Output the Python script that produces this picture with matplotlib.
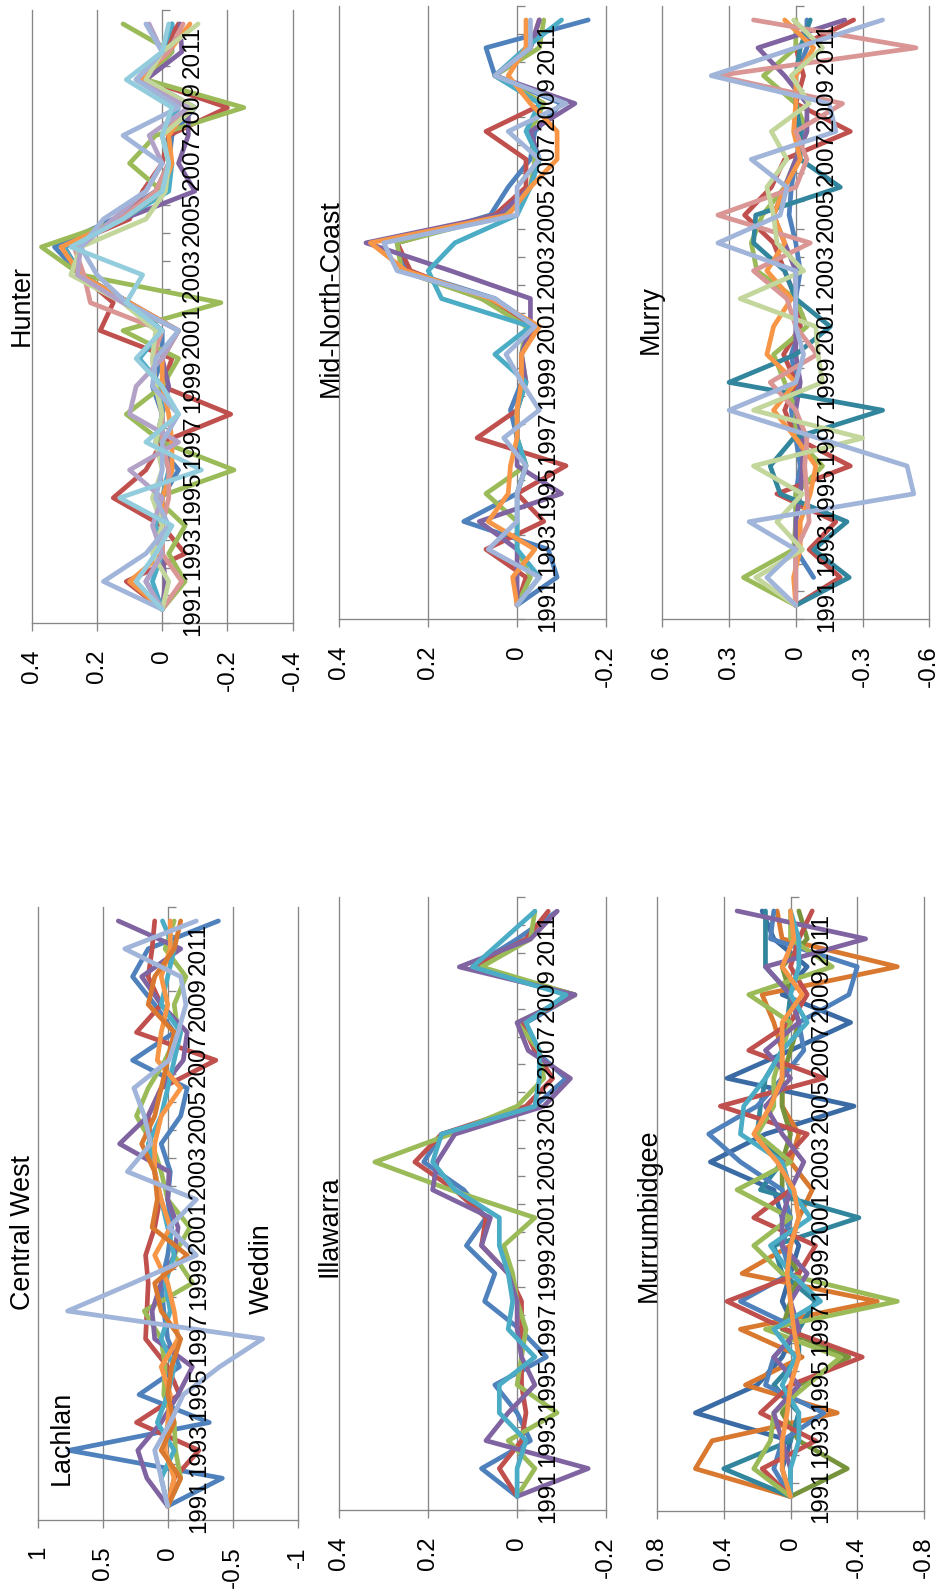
import numpy as np
import matplotlib
matplotlib.use('Agg')
import matplotlib.pyplot as plt
from matplotlib import transforms

plt.rcParams['font.family'] = ['Liberation Sans', 'DejaVu Sans']
plt.rcParams['axes.unicode_minus'] = False

W, H = 939, 1592
years = list(range(1991, 2013))

# ---- Central West ----
cw_lachlan = [0, -0.42, 0.76, -0.32, 0.22, -0.09, 0.0, 0.03, 0.05, 0.0, -0.03, 0.0, -0.02, 0.05, -0.1, -0.15, 0.27, -0.05, 0.1, 0.27, 0.15, -0.39]
cw_red = [0, -0.05, -0.24, 0.24, -0.09, 0.0, 0.17, 0.16, 0.15, 0.17, 0.1, 0.06, 0.1, 0.13, 0.15, 0.05, -0.37, 0.24, 0.05, 0.15, 0.12, 0.1]
cw_green = [0, -0.1, -0.06, -0.05, 0.03, 0.02, 0.05, 0.18, -0.19, -0.05, -0.17, 0.0, 0.05, 0.12, 0.24, 0.15, 0.02, -0.08, -0.05, -0.14, 0.02, -0.05]
cw_purple = [0, 0.16, 0.23, 0.05, -0.08, -0.19, 0.1, 0.12, 0.05, -0.05, -0.08, 0.0, -0.01, 0.37, 0.15, 0.05, -0.12, -0.15, 0.05, 0.2, -0.1, 0.38]
cw_aqua = [0, 0.05, -0.05, 0.08, 0.0, -0.05, 0.05, -0.02, 0.02, -0.05, 0.0, 0.05, 0.1, 0.15, 0.05, 0.0, -0.05, -0.1, 0.05, 0.0, -0.05, 0.04]
cw_orange = [0, -0.05, 0.02, 0.0, -0.02, 0.05, -0.08, -0.05, 0.0, 0.1, -0.02, 0.05, 0.1, 0.1, 0.05, -0.1, 0.08, 0.05, 0.0, 0.05, -0.02, -0.02]
cw_brown = [0, -0.1, 0.05, -0.05, 0.0, -0.03, -0.1, 0.05, 0.1, -0.15, 0.12, 0.08, 0.1, 0.2, 0.1, 0.05, 0.0, -0.05, 0.15, 0.1, -0.05, -0.1]
cw_weddin = [0, 0.05, 0.1, -0.02, -0.12, -0.4, -0.73, 0.77, 0.27, -0.22, -0.01, -0.22, 0.31, 0.13, 0.18, 0.26, -0.01, -0.08, -0.14, -0.1, 0.33, -0.22]

# ---- Illawarra ----
il_blue = [0, 0.08, -0.03, 0.0, 0.05, -0.066, -0.006, 0.073, 0.05, 0.114, 0.07, 0.12, 0.21, 0.17, -0.04, -0.11, -0.04, -0.02, -0.13, 0.1, 0.0, -0.09]
il_red = [0, 0.04, -0.01, -0.02, -0.01, -0.01, -0.01, -0.01, 0.02, 0.08, 0.07, 0.14, 0.23, 0.17, -0.02, -0.08, -0.04, -0.01, -0.13, 0.1, -0.02, -0.07]
il_green = [0, -0.04, 0.02, -0.09, 0.0, -0.01, -0.02, 0.0, 0.01, 0.03, -0.04, 0.15, 0.32, 0.15, 0.0, -0.06, -0.05, 0.0, -0.13, 0.08, -0.03, -0.04]
il_purple = [0, -0.16, 0.07, 0.02, -0.04, -0.01, 0.0, 0.0, 0.02, 0.08, 0.06, 0.19, 0.18, 0.14, -0.06, -0.12, -0.025, 0.0, -0.13, 0.13, -0.03, -0.09]
il_aqua = [0, 0.0, -0.02, 0.04, 0.04, -0.04, 0.02, 0.01, 0.02, 0.04, 0.04, 0.14, 0.19, 0.17, -0.04, -0.05, -0.05, -0.02, -0.11, 0.1, 0.03, -0.04]

# ---- Murrumbidgee ----
mb_brown = [0, 0.57, 0.47, -0.28, 0.27, -0.07, 0.3, -0.52, 0.29, 0.0, -0.05, -0.13, 0.0, -0.05, 0.05, 0.05, 0.05, 0.1, 0.17, -0.64, 0.05, 0.08]
mb_darkblue = [0, 0.05, 0.0, 0.57, 0.2, 0.05, -0.03, 0.05, 0.0, -0.05, 0.05, 0.1, 0.48, 0.15, -0.38, 0.38, 0.0, -0.36, 0.05, -0.1, 0.1, 0.17]
mb_blue = [0, 0.1, 0.05, -0.2, 0.15, 0.1, -0.05, 0.3, 0.0, 0.05, 0.0, 0.05, 0.3, 0.49, 0.2, 0.05, -0.08, -0.05, -0.35, -0.4, 0.12, 0.1]
mb_teal = [0, 0.4, 0.0, -0.05, 0.1, -0.05, -0.05, -0.15, 0.05, 0.1, -0.41, 0.18, 0.05, 0.2, 0.18, 0.15, 0.05, 0.02, 0.0, 0.15, 0.15, 0.15]
mb_green = [0, 0.22, 0.12, 0.1, -0.1, -0.3, 0.15, -0.64, 0.05, 0.22, 0.0, 0.32, 0.0, 0.2, 0.1, 0.1, 0.05, 0.0, 0.25, -0.25, 0.0, 0.0]
mb_darkgreen = [0, -0.34, -0.05, 0.05, -0.05, -0.35, 0.05, 0.0, -0.05, 0.05, 0.0, 0.05, 0.05, 0.0, 0.05, 0.05, 0.0, -0.05, 0.0, 0.05, -0.1, -0.05]
mb_red = [0, 0.17, -0.15, 0.18, 0.0, -0.43, 0.03, 0.38, -0.05, -0.15, 0.22, 0.0, 0.05, -0.1, 0.42, -0.2, 0.25, 0.0, -0.1, 0.0, -0.05, -0.13]
mb_purple = [0, 0.0, 0.05, 0.1, -0.05, 0.1, -0.05, 0.0, -0.1, 0.05, 0.05, 0.0, -0.08, 0.05, 0.15, 0.0, 0.15, -0.05, 0.0, 0.15, -0.45, 0.32]
mb_aqua = [0, 0.0, -0.05, -0.05, 0.05, -0.03, 0.1, -0.18, 0.0, 0.12, -0.12, 0.0, 0.05, 0.3, 0.28, 0.15, 0.05, -0.1, 0.0, -0.05, -0.05, 0.0]
mb_orange = [0, 0.05, 0.05, 0.02, 0.0, -0.05, -0.02, 0.0, 0.02, 0.0, -0.05, -0.02, 0.08, 0.22, 0.12, 0.05, 0.05, 0.05, -0.07, 0.05, -0.02, 0.0]

# ---- Hunter ----
hu_blue = [0, 0.05, 0.0, 0.02, 0.0, -0.05, 0.02, 0.0, 0.03, 0.0, 0.0, 0.1, 0.25, 0.33, 0.15, 0.02, -0.02, -0.03, -0.1, 0.05, -0.03, -0.03]
hu_red = [0, 0.11, -0.07, 0.0, 0.15, 0.05, 0.0, -0.21, 0.0, -0.03, 0.19, 0.15, 0.25, 0.3, 0.1, 0.06, 0.0, -0.02, -0.2, 0.05, 0.0, -0.05]
hu_green = [0, -0.07, -0.02, -0.07, 0.02, -0.22, 0.0, 0.11, 0.0, -0.05, 0.12, -0.18, 0.25, 0.37, 0.12, 0.0, 0.1, 0.02, -0.25, 0.05, -0.03, 0.12]
hu_purple = [0, -0.01, 0.0, 0.0, 0.0, -0.03, 0.0, 0.0, -0.02, 0.0, -0.05, 0.1, 0.25, 0.3, 0.12, -0.1, -0.05, -0.08, -0.08, 0.05, -0.06, -0.055]
hu_aqua = [0, 0.03, 0.0, 0.02, 0.0, -0.02, 0.0, 0.0, 0.0, 0.07, 0.0, 0.1, 0.25, 0.3, 0.12, -0.02, -0.03, 0.0, -0.05, 0.06, 0.0, -0.03]
hu_orange = [0, 0.1, 0.0, 0.0, 0.0, -0.03, -0.03, -0.02, 0.0, 0.0, -0.05, 0.1, 0.25, 0.31, 0.12, 0.0, -0.03, -0.02, -0.08, 0.07, -0.02, -0.085]
hu_pink = [0, -0.06, 0.0, 0.0, -0.02, -0.02, 0.0, 0.0, 0.02, 0.03, 0.0, 0.22, 0.24, 0.27, 0.13, 0.02, -0.02, 0.0, -0.08, 0.08, -0.02, -0.064]
hu_lgreen = [0, -0.02, 0.03, 0.0, 0.03, 0.0, 0.02, 0.0, 0.02, 0.03, 0.02, 0.12, 0.28, 0.25, 0.05, -0.01, -0.02, 0.0, -0.1, 0.05, 0.0, -0.11]
hu_lavender = [0, 0.05, 0.0, 0.03, 0.0, 0.1, -0.05, 0.1, 0.08, 0.0, -0.05, 0.12, 0.26, 0.25, 0.15, 0.05, 0.0, 0.04, -0.08, 0.08, 0.0, 0.04]
hu_lsb = [0, 0.18, 0.05, -0.02, 0.02, 0.0, 0.0, -0.05, 0.03, 0.02, -0.05, 0.11, 0.2, 0.25, 0.18, 0.05, 0.0, 0.12, -0.05, 0.08, 0.0, 0.05]
hu_laqua = [0, 0.08, 0.02, -0.03, 0.13, -0.12, 0.05, -0.05, 0.0, 0.08, 0.0, 0.11, 0.06, 0.28, 0.12, 0.0, -0.02, 0.0, -0.03, 0.11, 0.0, -0.02]

# ---- Mid-North-Coast ----
mn_blue = [0, -0.09, -0.07, 0.12, 0.0, -0.02, 0.0, 0.015, -0.01, -0.01, -0.04, 0.05, 0.25, 0.27, 0.06, 0.02, -0.03, -0.04, -0.1, 0.05, 0.07, -0.16]
mn_red = [0, -0.02, 0.07, -0.06, 0.0, -0.11, 0.09, 0.0, -0.01, -0.01, -0.04, 0.08, 0.24, 0.27, 0.05, -0.02, -0.02, 0.07, -0.06, 0.05, -0.03, -0.05]
mn_green = [0, -0.03, 0.0, 0.0, 0.07, -0.02, 0.0, 0.0, -0.02, -0.01, -0.02, 0.08, 0.26, 0.27, 0.03, -0.03, -0.04, -0.03, -0.06, 0.05, -0.05, -0.06]
mn_purple = [0, 0.0, 0.0, 0.085, -0.1, 0.0, 0.0, 0.0, -0.02, -0.01, -0.03, -0.03, 0.15, 0.34, 0.04, -0.03, -0.05, -0.03, -0.13, 0.05, -0.03, -0.05]
mn_aqua = [0, -0.05, 0.0, 0.0, 0.0, -0.02, 0.0, 0.0, -0.02, 0.05, -0.03, 0.17, 0.2, 0.14, 0.0, -0.03, -0.05, -0.02, -0.05, 0.05, -0.02, -0.1]
mn_orange = [0, 0.01, -0.04, 0.065, 0.02, 0.015, 0.0, 0.0, -0.01, -0.01, -0.05, 0.06, 0.25, 0.33, 0.02, -0.03, -0.09, -0.09, -0.03, 0.02, -0.02, -0.02]
mn_lsb = [0, -0.05, 0.065, 0.0, 0.0, -0.02, 0.03, -0.05, -0.01, 0.025, -0.04, 0.05, 0.27, 0.3, 0.0, 0.0, -0.05, 0.02, -0.11, 0.05, -0.03, -0.03]

# ---- Murry ----
mu_blue = [np.nan, -0.08, 0.0, 0.0, 0.0, -0.02, 0.0, 0.02, 0.0, 0.02, -0.02, 0.0, -0.02, 0.0, 0.03, 0.02, 0.0, -0.03, 0.0, 0.0, -0.05, -0.05]
mu_red = [0, -0.2, -0.06, -0.18, 0.085, -0.245, 0.0, 0.05, 0.0, 0.055, -0.02, 0.0, 0.05, 0.1, 0.23, 0.11, 0.05, -0.245, 0.0, -0.035, 0.0, -0.26]
mu_green = [0, 0.235, 0.01, 0.0, 0.0, -0.12, 0.0, 0.0, 0.05, 0.1, -0.05, 0.0, 0.175, 0.2, 0.15, 0.05, 0.0, -0.05, 0.0, 0.145, 0.0, 0.0]
mu_purple = [0, 0.0, 0.0, 0.0, -0.02, -0.03, -0.03, 0.0, -0.02, 0.0, 0.0, 0.0, 0.0, 0.05, 0.1, 0.05, 0.0, -0.05, -0.05, 0.05, 0.17, -0.22]
mu_teal = [0, -0.24, -0.08, -0.23, 0.07, 0.115, 0.01, -0.39, 0.3, 0.0, -0.155, 0.0, 0.05, 0.19, 0.18, -0.2, -0.02, -0.02, 0.0, 0.0, -0.02, -0.065]
mu_orange = [0, 0.01, -0.02, -0.02, -0.065, -0.09, 0.0, 0.1, 0.0, 0.13, 0.1, 0.02, 0.13, 0.05, 0.1, 0.05, -0.02, 0.01, 0.0, 0.0, -0.08, 0.05]
mu_pink = [0, 0.0, 0.0, -0.06, -0.05, -0.04, -0.05, 0.0, 0.115, -0.095, 0.0, 0.04, 0.19, -0.065, 0.35, 0.0, -0.05, 0.0, -0.21, 0.355, -0.54, 0.19]
mu_lgreen = [0, 0.18, -0.03, 0.085, -0.03, 0.19, -0.3, 0.19, -0.12, -0.1, -0.09, 0.25, -0.035, 0.085, 0.1, 0.13, 0.04, 0.11, -0.06, 0.02, -0.12, 0.01]
mu_lsb = [0, 0.13, 0.0, 0.21, -0.53, -0.5, -0.1, 0.3, 0.0, -0.035, 0.0, 0.0, 0.0, 0.35, 0.07, 0.04, 0.2, -0.18, -0.15, 0.38, 0.0, -0.39]

# excel-ish colours
BLUE, RED, GREEN = '#4F81BD', '#C0504D', '#9BBB59'
PURPLE, AQUA, ORANGE = '#8064A2', '#4BACC6', '#F79646'
BROWN, LSB, DBLUE = '#D9782F', '#A0B5D9', '#3A6BA5'
TEAL, DGREEN, PINK = '#31859C', '#77933C', '#D99694'
LGREEN, LAV, LAQUA = '#C3D69B', '#B3A2C7', '#93CDDD'
GRID = '#868686'

TICK_FS = 17.4
TITLE_FS = 19.4
LW = 3.4

fig = plt.figure(figsize=(W / 100, H / 100), dpi=100)


def draw_panel(box, vlim, ticks, tlabels, series, colors):
    # box in pixels: left, right, top, bottom; value axis runs right-to-left
    x0, x1, y0, y1 = box
    ax = fig.add_axes([x0 / W, 1 - y1 / H, (x1 - x0) / W, (y1 - y0) / H])
    ax.set_xlim(vlim[0], vlim[1])
    ax.set_ylim(-0.5, len(years) - 0.5)
    for s in ('top', 'left', 'right'):
        ax.spines[s].set_visible(False)
    ax.spines['bottom'].set_color(GRID)
    ax.spines['bottom'].set_linewidth(0.95)
    ax.set_yticks([])
    ax.set_xticks(ticks)
    ax.set_xticklabels(tlabels, rotation=90, fontsize=TICK_FS)
    ax.tick_params(axis='x', direction='out', length=5.8, width=0.95,
                   color=GRID, pad=13.0)
    for t in ticks:
        ax.axvline(t, color=GRID, lw=0.95, zorder=0.5, clip_on=False)
    # category axis tick marks on the zero line
    edges = np.arange(len(years) + 1) - 0.5
    ax.plot(np.zeros(len(edges)), edges, ls='none', marker=1, ms=6,
            mew=0.95, color=GRID, clip_on=False, zorder=0.6)
    idx = np.arange(len(years))
    for vals, c in zip(series, colors):
        ax.plot(vals, idx, color=c, lw=LW, solid_joinstyle='round',
                solid_capstyle='round', zorder=2)
    off = transforms.offset_copy(ax.transData, fig=fig, x=20, y=0, units='dots')
    for i in range(0, len(years), 2):
        ax.text(0, i, str(years[i]), transform=off, rotation=90, ha='left',
                va='center', fontsize=TICK_FS, zorder=5)
    return ax


def label(cx, cy, s):
    fig.text(cx / W, 1 - cy / H, s, rotation=90, ha='center', va='center',
             fontsize=TITLE_FS)


draw_panel((37.7, 297.7, 907, 1520), (1, -1), [1, 0.5, 0, -0.5, -1],
           ['1', '0.5', '0', '-0.5', '-1'],
           [cw_lachlan, cw_red, cw_green, cw_purple, cw_aqua, cw_orange, cw_brown, cw_weddin],
           [BLUE, RED, GREEN, PURPLE, AQUA, ORANGE, BROWN, LSB])
draw_panel((339.3, 606, 897.3, 1510.3), (0.4, -0.2), [0.4, 0.2, 0, -0.2],
           ['0.4', '0.2', '0', '-0.2'],
           [il_blue, il_red, il_green, il_purple, il_aqua],
           [BLUE, RED, GREEN, PURPLE, AQUA])
draw_panel((657, 924, 897, 1510.5), (0.8, -0.8), [0.8, 0.4, 0, -0.4, -0.8],
           ['0.8', '0.4', '0', '-0.4', '-0.8'],
           [mb_darkblue, mb_brown, mb_teal, mb_darkgreen, mb_blue, mb_red, mb_green,
            mb_purple, mb_aqua, mb_orange],
           [DBLUE, BROWN, TEAL, DGREEN, BLUE, RED, GREEN, PURPLE, AQUA, ORANGE])
draw_panel((31.7, 292.7, 10, 623.3), (0.4, -0.4), [0.4, 0.2, 0, -0.2, -0.4],
           ['0.4', '0.2', '0', '-0.2', '-0.4'],
           [hu_blue, hu_red, hu_green, hu_purple, hu_aqua, hu_orange, hu_pink,
            hu_lgreen, hu_lavender, hu_lsb, hu_laqua],
           [BLUE, RED, GREEN, PURPLE, AQUA, ORANGE, PINK, LGREEN, LAV, LSB, LAQUA])
draw_panel((339.3, 606, 6, 619), (0.4, -0.2), [0.4, 0.2, 0, -0.2],
           ['0.4', '0.2', '0', '-0.2'],
           [mn_blue, mn_red, mn_green, mn_purple, mn_aqua, mn_orange, mn_lsb],
           [BLUE, RED, GREEN, PURPLE, AQUA, ORANGE, LSB])
draw_panel((662.3, 929.3, 6, 619.3), (0.6, -0.6), [0.6, 0.3, 0, -0.3, -0.6],
           ['0.6', '0.3', '0', '-0.3', '-0.6'],
           [mu_blue, mu_red, mu_green, mu_purple, mu_teal, mu_orange, mu_pink,
            mu_lgreen, mu_lsb],
           [BLUE, RED, GREEN, PURPLE, TEAL, ORANGE, PINK, LGREEN, LSB])

label(23, 1233, 'Central West')
label(61.5, 1438, 'Lachlan')
label(261.5, 1269, 'Weddin')
label(329.5, 1226, 'Illawarra')
label(648.5, 1215, 'Murrumbidgee')
label(21.5, 306, 'Hunter')
label(330.5, 298, 'Mid-North-Coast')
label(650.5, 319, 'Murry')

fig.savefig('out.png', dpi=100)
